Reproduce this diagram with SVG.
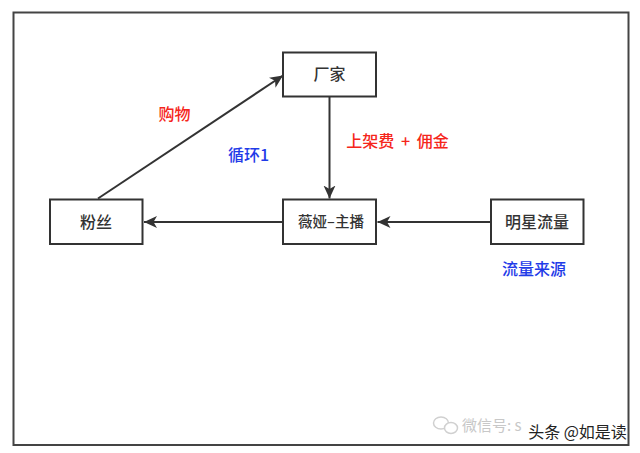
<svg xmlns="http://www.w3.org/2000/svg" width="640" height="453" viewBox="0 0 640 453">
<defs>
<marker id="arr" markerUnits="userSpaceOnUse" markerWidth="14" markerHeight="14" refX="13" refY="7" orient="auto"><path d="M0 1 L13 7 L0 13 L3.500 7 Z" fill="#333"/></marker>
</defs>
<style>
.b{fill:#fff;stroke:#333;stroke-width:2}
.c{fill:none;stroke:#333;stroke-width:2;marker-end:url(#arr)}
text{font-family:"Noto Sans CJK SC","Liberation Sans",sans-serif;text-anchor:middle;font-weight:500}
.n{fill:#333;font-size:16px}
.r{fill:#f5261b;font-size:16px}
.u{fill:#1f3be8;font-size:16px}
.w{fill:none;stroke:#d0d0d0;stroke-width:1.500}
</style>
<rect width="640" height="453" fill="#fff"/>
<rect id="frame" x="13.500" y="12.500" width="615" height="432.500" fill="#fff" stroke="#444" stroke-width="2"/>
<g id="connectors">
<path class="c" d="M98 198.500 L283 75.500"/>
<path class="c" d="M329.500 96 L329.500 198.500"/>
<path class="c" d="M283 222 L144 222"/>
<path class="c" d="M491 222 L377.500 222"/>
</g>
<g id="node-changjia"><rect class="b" x="283" y="52.500" width="93" height="44"/><text class="n" x="329.500" y="80">厂家</text></g>
<g id="node-fensi"><rect class="b" x="50" y="199.500" width="92.500" height="44.500"/><text class="n" x="96" y="228">粉丝</text></g>
<g id="node-weiya"><rect class="b" x="283" y="199.500" width="93" height="44.500"/><text class="n" x="331" y="227" style="font-size:14.500px">薇娅–主播</text></g>
<g id="node-star"><rect class="b" x="491" y="199.500" width="92.500" height="44.500"/><text class="n" x="537" y="228">明星流量</text></g>
<g id="labels">
<text class="r" x="174.500" y="120">购物</text>
<text class="r" x="397.500" y="147" style="word-spacing:3px">上架费 + 佣金</text>
<text class="u" x="248.500" y="161">循环1</text>
<text class="u" x="534" y="275">流量来源</text>
</g>
<g id="watermark">
<ellipse class="w" cx="441" cy="423" rx="7.500" ry="6"/>
<ellipse class="w" cx="451" cy="428" rx="6.500" ry="5.500" fill="#fff" style="fill:#fff"/>
<text x="462" y="431" style="font-size:15px;fill:#c8c8c8;font-weight:400;text-anchor:start">微信号: s</text>
<text x="577.500" y="438" style="font-size:16px;fill:#222;font-weight:400">头条 @如是读</text>
</g>
</svg>
